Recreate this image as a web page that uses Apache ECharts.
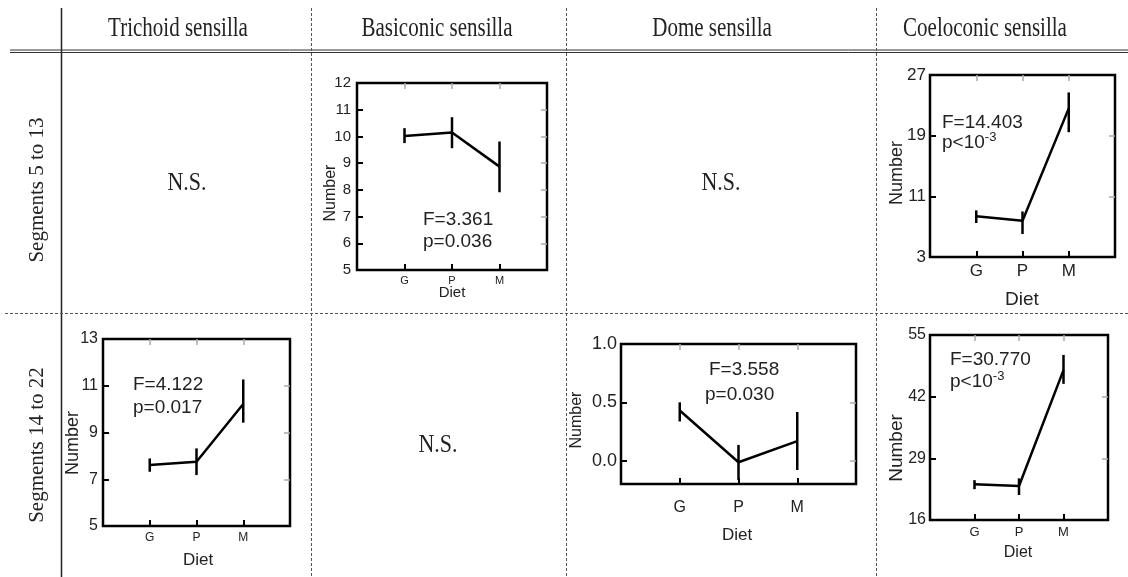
<!DOCTYPE html>
<html><head><meta charset="utf-8">
<script src="https://cdn.jsdelivr.net/npm/echarts@6/dist/echarts.min.js"></script>
<style>html,body{margin:0;padding:0;background:#fff}#c{width:1128px;height:577px}</style>
</head><body><div id="c"></div>
<script>
// ---- data ----
const categories = ['G', 'P', 'M'];
const columnHeaders = ['Trichoid sensilla', 'Basiconic sensilla', 'Dome sensilla', 'Coeloconic sensilla'];
const rowHeaders = ['Segments 5 to 13', 'Segments 14 to 22'];
const nsLabel = 'N.S.';

const basiconicTopMean = [10.02, 10.15, 8.87];
const basiconicTopLow  = [9.75, 9.56, 7.91];
const basiconicTopHigh = [10.31, 10.72, 9.81];
const basiconicTopTicks = [5, 6, 7, 8, 9, 10, 11, 12];

const coeloconicTopMean = [8.36, 7.79, 22.6];
const coeloconicTopLow  = [7.48, 6.03, 19.46];
const coeloconicTopHigh = [9.15, 9.0, 24.7];
const coeloconicTopTicks = [3, 11, 19, 27];

const trichoidBotMean = [7.61, 7.75, 10.22];
const trichoidBotLow  = [7.32, 7.18, 9.42];
const trichoidBotHigh = [7.89, 8.32, 11.27];
const trichoidBotTicks = [5, 7, 9, 11, 13];

const domeBotMean = [0.43, -0.014, 0.167];
const domeBotLow  = [0.336, -0.167, -0.08];
const domeBotHigh = [0.50, 0.135, 0.417];
const domeBotTicks = [0.0, 0.5, 1.0];
const domeBotMin = -0.2;

const coeloconicBotMean = [23.52, 23.17, 47.6];
const coeloconicBotLow  = [22.5, 21.27, 44.7];
const coeloconicBotHigh = [24.4, 24.78, 50.8];
const coeloconicBotTicks = [16, 29, 42, 55];

const statF = ['F=3.361', 'F=14.403', 'F=4.122', 'F=3.558', 'F=30.770'];
const statP = ['p=0.036', 'p<10{s|-3}', 'p=0.017', 'p=0.030', 'p<10{s|-3}'];

// ---- layout ----
const panels = [
  {box:[357,83,547,270], mean:basiconicTopMean, low:basiconicTopLow, high:basiconicTopHigh, ticks:basiconicTopTicks,
   xFont:11, yFont:15, xMargin:5, yMargin:6, nameFont:16, dietFont:15, numPos:[331,193], dietPos:[452,293],
   fPos:[423,220], pPos:[423,242]},
  {box:[930,75,1115,257], mean:coeloconicTopMean, low:coeloconicTopLow, high:coeloconicTopHigh, ticks:coeloconicTopTicks,
   xFont:17, yFont:17, xMargin:6, yMargin:4, nameFont:18, dietFont:19, numPos:[897,173], dietPos:[1022,300],
   fPos:[942,123], pPos:[942,143]},
  {box:[103,339,290,526], mean:trichoidBotMean, low:trichoidBotLow, high:trichoidBotHigh, ticks:trichoidBotTicks,
   xFont:12, yFont:16, xMargin:6, yMargin:5, nameFont:18, dietFont:17, numPos:[73,443], dietPos:[198,560],
   fPos:[133,385], pPos:[133,408]},
  {box:[621,344,856,484], mean:domeBotMean, low:domeBotLow, high:domeBotHigh, ticks:domeBotTicks, min:domeBotMin, custom:true,
   xFont:16, yFont:18, xMargin:16, yMargin:4, nameFont:16, dietFont:17, numPos:[577,420], dietPos:[737,535],
   fPos:[709,370], pPos:[705,395]},
  {box:[930,335,1108,520], mean:coeloconicBotMean, low:coeloconicBotLow, high:coeloconicBotHigh, ticks:coeloconicBotTicks,
   xFont:13, yFont:16, xMargin:6, yMargin:4, nameFont:19, dietFont:16, numPos:[897,448], dietPos:[1018,553],
   fPos:[950,360], pPos:[950,382]}
];

const grids = [], xAxes = [], yAxes = [], series = [], graphics = [];
const SANS = 'Liberation Sans, Arial, sans-serif';
const SERIF = 'Liberation Serif, Times New Roman, serif';

panels.forEach((p, i) => {
  const [l, t, r, b] = p.box;
  grids.push({left:l, top:t, width:r-l, height:b-t, show:true, borderColor:'#000', borderWidth:2.5, backgroundColor:'transparent'});
  const yMin = p.min !== undefined ? p.min : p.ticks[0];
  const yMax = p.ticks[p.ticks.length-1];
  const yInterval = p.ticks[1] - p.ticks[0];
  xAxes.push({gridIndex:i, type:'value', min:0, max:4, interval:1, position:'bottom',
    axisLine:{show:false, onZero:false}, splitLine:{show:false},
    axisTick:{show:true, inside:true, length:6, lineStyle:{color:'#000', width:2}, customValues:[1,2,3]},
    axisLabel:{show:true, fontFamily:SANS, fontSize:p.xFont, color:'#222', margin:p.xMargin,
      customValues:[1,2,3], formatter:v => categories[Math.round(v)-1] || ''}});
  xAxes.push({gridIndex:i, type:'value', min:0, max:4, interval:1, position:'top',
    axisLine:{show:false, onZero:false}, splitLine:{show:false},
    axisTick:{show:true, inside:true, length:6, lineStyle:{color:'#aaa', width:1.5}, customValues:[1,2,3]},
    axisLabel:{show:false}});
  const yBase = {gridIndex:i, type:'value', min:yMin, max:yMax, interval:yInterval,
    axisLine:{show:false, onZero:false}, splitLine:{show:false}};
  const fmt = p.custom ? (v => v.toFixed(1)) : (v => String(v));
  const yl = Object.assign({}, yBase, {position:'left',
    axisTick:{show:true, inside:true, length:6, lineStyle:{color:'#000', width:2}},
    axisLabel:{show:true, fontFamily:SANS, fontSize:p.yFont, color:'#222', margin:p.yMargin, formatter:fmt}});
  const innerTicks = p.ticks.filter(v => v > yMin && v < yMax);
  const yr = Object.assign({}, yBase, {position:'right',
    axisTick:{show:true, inside:true, length:6, lineStyle:{color:'#aaa', width:1.5}, customValues:innerTicks},
    axisLabel:{show:false}});
  if (p.custom) {
    yl.axisTick.customValues = p.ticks; yl.axisLabel.customValues = p.ticks;
  }
  yAxes.push(yl, yr);

  series.push({type:'line', xAxisIndex:2*i, yAxisIndex:2*i, showSymbol:false, symbol:'none', silent:true,
    lineStyle:{color:'#000', width:2.5}, data:categories.map((c, j) => [j+1, p.mean[j]])});
  series.push({type:'custom', xAxisIndex:2*i, yAxisIndex:2*i, silent:true,
    encode:{x:0, y:[1,2]},
    data:categories.map((c, j) => [j+1, p.low[j], p.high[j]]),
    renderItem:(params, api) => {
      const a = api.coord([api.value(0), api.value(1)]);
      const z = api.coord([api.value(0), api.value(2)]);
      return {type:'line', shape:{x1:a[0], y1:a[1], x2:z[0], y2:z[1]}, style:{stroke:'#000', lineWidth:2.5}};
    }});

  graphics.push({type:'text', x:p.numPos[0], y:p.numPos[1], rotation:Math.PI/2,
    style:{text:'Number', font:`${p.nameFont}px ${SANS}`, fill:'#222', textAlign:'center', textVerticalAlign:'middle'}});
  graphics.push({type:'text', x:p.dietPos[0], y:p.dietPos[1],
    style:{text:'Diet', font:`${p.dietFont}px ${SANS}`, fill:'#222', textAlign:'center', textVerticalAlign:'middle'}});
  graphics.push({type:'text', x:p.fPos[0], y:p.fPos[1],
    style:{text:statF[i], font:`19px ${SANS}`, fill:'#222', textAlign:'left', textVerticalAlign:'middle'}});
  graphics.push({type:'text', x:p.pPos[0], y:p.pPos[1],
    style:{text:statP[i], font:`19px ${SANS}`, fill:'#222', textAlign:'left', textVerticalAlign:'middle',
      rich:{s:{fontSize:13, fontFamily:SANS, fill:'#222', padding:[0,0,12,0]}}}});
});

// table lines
const tableLine = (x1,y1,x2,y2,dash,w,c) => ({type:'line', silent:true, z:0,
  shape:{x1,y1,x2,y2}, style:{stroke:c||'#333', lineWidth:w||1, lineDash:dash||null}});
graphics.push(tableLine(61.5, 8, 61.5, 577, null, 1.5, '#222'));
graphics.push(tableLine(10, 50, 1128, 50, null, 1, '#333'));
graphics.push(tableLine(10, 52.5, 1128, 52.5, null, 1, '#333'));
[311, 566, 876].forEach(x => graphics.push(tableLine(x+0.5, 8, x+0.5, 577, [3,2], 1, '#555')));
graphics.push(tableLine(5, 313.5, 1128, 313.5, [3,2], 1, '#555'));

const headerX = [178, 437, 712, 985];
columnHeaders.forEach((h, k) => graphics.push({type:'text', x:headerX[k], y:29, scaleY:1.25,
  style:{text:h, font:`21px ${SERIF}`, fill:'#222', textAlign:'center', textVerticalAlign:'middle'}}));
const rowY = [190, 445];
rowHeaders.forEach((h, k) => graphics.push({type:'text', x:37, y:rowY[k], rotation:Math.PI/2,
  style:{text:h, font:`21px ${SERIF}`, fill:'#222', textAlign:'center', textVerticalAlign:'middle'}}));
[[187,183],[721,183],[438,445]].forEach(pt => graphics.push({type:'text', x:pt[0], y:pt[1], scaleY:1.15,
  style:{text:nsLabel, font:`22px ${SERIF}`, fill:'#222', textAlign:'center', textVerticalAlign:'middle'}}));

const chart = echarts.init(document.getElementById('c'));
chart.setOption({animation:false, backgroundColor:'#fff', grid:grids, xAxis:xAxes, yAxis:yAxes, series, graphic:graphics});
</script></body></html>
